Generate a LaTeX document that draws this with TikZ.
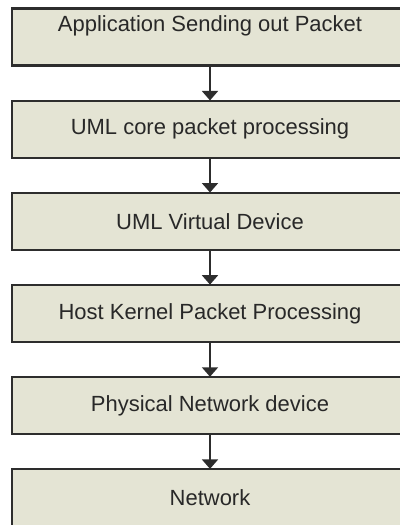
\documentclass[tikz,border=0pt]{standalone}
\usepackage{fontspec}
\setmainfont{Liberation Sans}
\usepackage{tikz}
\usetikzlibrary{arrows.meta,positioning}
\usepackage{xcolor}
\definecolor{boxfill}{RGB}{228,228,212}
\definecolor{boxline}{RGB}{45,45,45}
\definecolor{txtgray}{RGB}{40,40,40}

\begin{document}
\begin{tikzpicture}[
  layer/.style={draw=boxline,line width=1.2pt,fill=boxfill,minimum width=7.92cm,
                minimum height=1.14cm,inner sep=0pt,text=txtgray,
                font=\fontsize{12.5}{15}\selectfont},
  flow/.style={-{Triangle[width=0.32cm,length=0.19cm]},draw=boxline,line width=1.1pt,
               shorten >=-0.5pt}]
 \clip (0,0) rectangle (8,10.5);
 \fill[white] (0,0) rectangle (8,10.5);
 % packet path, top to bottom
 \node[layer,text depth=0.54cm] (app) at (4.2,9.76) {Application Sending out Packet};
 \node[layer,below=0.66cm of app] (umlcore) {UML core packet processing};
 \node[layer,below=0.66cm of umlcore] (umlvdev) {UML Virtual Device};
 \node[layer,below=0.66cm of umlvdev] (hostkern) {Host Kernel Packet Processing};
 \node[layer,below=0.66cm of hostkern] (phydev) {Physical Network device};
 \node[layer,below=0.66cm of phydev] (net) {Network};
 % arrows between the layers
 \draw[flow] (app) -- (umlcore);
 \draw[flow] (umlcore) -- (umlvdev);
 \draw[flow] (umlvdev) -- (hostkern);
 \draw[flow] (hostkern) -- (phydev);
 \draw[flow] (phydev) -- (net);
\end{tikzpicture}
\end{document}
